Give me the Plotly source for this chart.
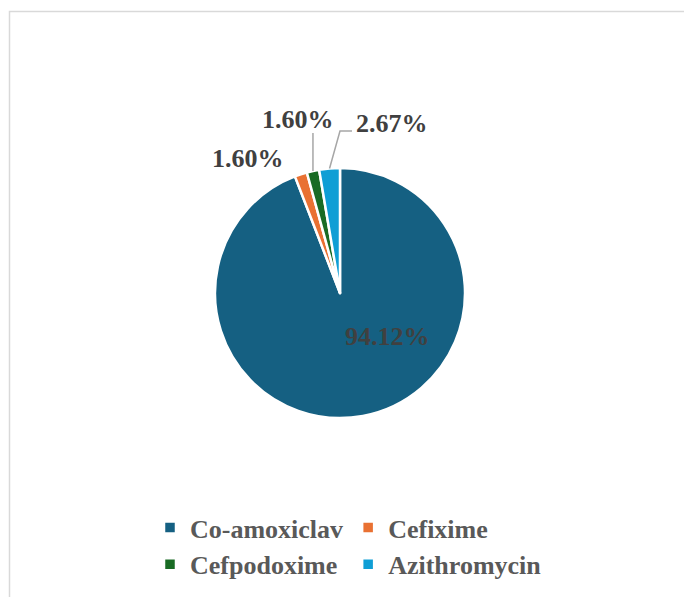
import math
import plotly.graph_objects as go

# Share of prescriptions by antibiotic (%)
drugs = ["Co-amoxiclav", "Cefixime", "Cefpodoxime", "Azithromycin"]
shares = [94.12, 1.60, 1.60, 2.67]
share_labels = ["94.12%", "1.60%", "1.60%", "2.67%"]
colors = ["#156082", "#E97132", "#196B24", "#0F9ED5"]

# Canvas and plot-area geometry (pixels)
W, H = 684, 597
ML, MR, MT, MB = 130, 134, 0, 0
PW, PH = W - ML - MR, H - MT - MB
CX, CY, R = 340, 293, 125


def px_x(x):
    return (x - ML) / PW


def px_y(y):
    return 1 - (y - MT) / PH


# Mid-angle of every slice, clockwise from 12 o'clock
total = sum(shares)
mid_angles = []
acc = 0.0
for v in shares:
    mid_angles.append((acc + v / 2) / total * 2 * math.pi)
    acc += v


def rim_point(i):
    a = mid_angles[i]
    return CX + R * math.sin(a), CY - R * math.cos(a)


fig = go.Figure(
    go.Pie(
        labels=drugs,
        values=shares,
        sort=False,
        direction="clockwise",
        rotation=0,
        marker=dict(colors=colors, line=dict(color="white", width=2.5)),
        textinfo="none",
        hoverinfo="skip",
        domain=dict(x=[px_x(CX - R), px_x(CX + R)], y=[px_y(CY + R), px_y(CY - R)]),
    )
)

label_font = dict(family="Liberation Serif", size=26, color="#404040", weight="bold")

# Label positions (pixel centres) for each slice
label_pos = [(387, 336), (248, 158), (298, 120), (392, 123)]
for txt, (lx, ly) in zip(share_labels, label_pos):
    fig.add_annotation(
        x=px_x(lx), y=px_y(ly), xref="paper", yref="paper",
        text=txt, showarrow=False, font=label_font,
        xanchor="center", yanchor="middle",
    )

# Leader lines from the rim of the small slices to their labels
x0, y0 = rim_point(2)
fig.add_shape(
    type="path", xref="paper", yref="paper",
    path=f"M{px_x(x0)},{px_y(y0)} L{px_x(x0)},{px_y(133)}",
    line=dict(color="#A6A6A6", width=1.5),
)
x0, y0 = rim_point(3)
fig.add_shape(
    type="path", xref="paper", yref="paper",
    path=f"M{px_x(x0)},{px_y(y0)} L{px_x(340)},{px_y(131)} L{px_x(352)},{px_y(131)}",
    line=dict(color="#A6A6A6", width=1.5),
)

# Chart-area frame
fig.add_shape(
    type="rect", xref="paper", yref="paper",
    x0=px_x(9.5), x1=px_x(W + 20), y0=px_y(11.5), y1=px_y(H + 20),
    line=dict(color="#D9D9D9", width=1.5),
)

fig.update_layout(
    width=W, height=H,
    margin=dict(l=ML, r=MR, t=MT, b=MB),
    paper_bgcolor="white", plot_bgcolor="white",
    showlegend=True,
    legend=dict(
        orientation="h",
        x=px_x(150), xanchor="left",
        y=px_y(504), yanchor="top",
        font=dict(family="Liberation Serif", size=26, color="#595959", weight="bold"),
        bgcolor="rgba(0,0,0,0)",
    ),
)

fig.write_html("out.html")
